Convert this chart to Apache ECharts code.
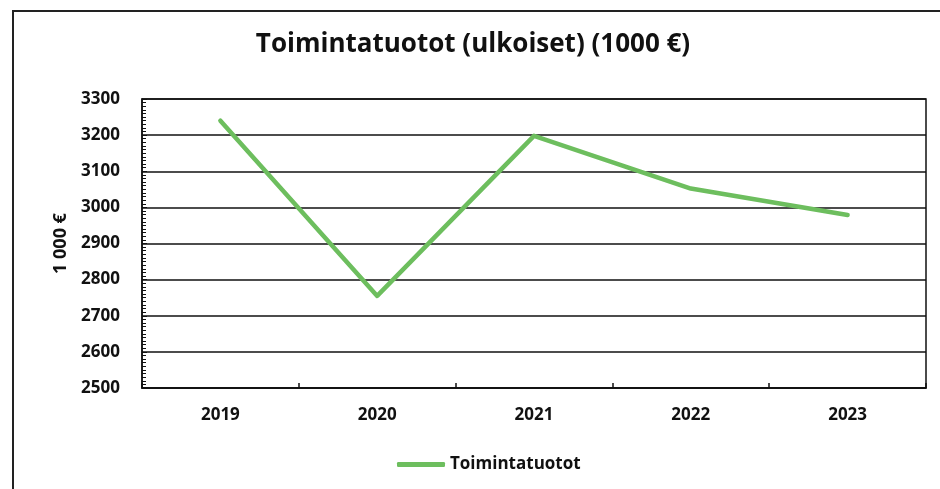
<!DOCTYPE html>
<html>
<head>
<meta charset="utf-8">
<script src="https://cdn.jsdelivr.net/npm/echarts@6/dist/echarts.min.js"></script>
<style>
  html, body { margin: 0; padding: 0; background: #ffffff; }
  #chart { width: 940px; height: 489px; }
</style>
</head>
<body>
<div id="chart"></div>
<script>
const titleText = 'Toimintatuotot (ulkoiset) (1000 €)';
const seriesName = 'Toimintatuotot';
const yAxisName = '1 000 €';
const years = ['2019', '2020', '2021', '2022', '2023'];
const revenue = [3240, 2755, 3198, 3052, 2979];
const yMin = 2500;
const yMax = 3300;
const yStep = 100;

const FONT = '"Open Sans", "Noto Sans", sans-serif';
const chart = echarts.init(document.getElementById('chart'), null, { renderer: 'canvas' });
chart.setOption({
  backgroundColor: '#ffffff',
  animation: false,
  title: {
    text: titleText,
    left: 468,
    textAlign: 'center',
    top: 27,
    textStyle: { fontFamily: FONT, fontWeight: 'bold', fontSize: 26, color: '#111' }
  },
  graphic: [{
    type: 'polyline',
    shape: { points: [[13, 500], [13, 11], [950, 11]] },
    style: { stroke: '#222', lineWidth: 2, fill: null }
  }],
  legend: {
    data: [seriesName],
    left: 392,
    top: 451,
    icon: 'roundRect',
    itemWidth: 48,
    itemHeight: 5,
    textStyle: { fontFamily: FONT, fontWeight: 'bold', fontSize: 17, color: '#111' }
  },
  grid: {
    left: 142, right: 14, top: 99, bottom: 101,
    show: true, borderColor: '#111', borderWidth: 1.5, backgroundColor: 'transparent'
  },
  xAxis: {
    type: 'category',
    data: years,
    boundaryGap: true,
    axisLine: { lineStyle: { color: '#111', width: 1.5 } },
    axisTick: { show: true, inside: true, length: 5, lineStyle: { color: '#111', width: 1.5 } },
    axisLabel: { margin: 19, fontFamily: FONT, fontWeight: 'bold', fontSize: 17, color: '#111' },
    splitLine: { show: false }
  },
  yAxis: {
    type: 'value',
    min: yMin, max: yMax, interval: yStep,
    name: yAxisName,
    nameLocation: 'middle',
    nameGap: 72,
    nameRotate: 90,
    nameTextStyle: { fontFamily: FONT, fontWeight: 'bold', fontSize: 18, color: '#111' },
    axisLine: { show: true, lineStyle: { color: '#111', width: 1.5 } },
    axisTick: { show: true, inside: true, length: 5, lineStyle: { color: '#111', width: 1 } },
    minorTick: { show: true, splitNumber: 10, length: 4, lineStyle: { color: '#111', width: 1 } },
    axisLabel: {
      margin: 22, fontFamily: FONT, fontWeight: 'bold', fontSize: 17, color: '#111',
      formatter: function (v) { return String(v); }
    },
    splitLine: { show: true, lineStyle: { color: '#111', width: 1.5 } }
  },
  series: [{
    name: seriesName,
    type: 'line',
    data: revenue,
    symbol: 'none',
    lineStyle: { color: '#6DBE5E', width: 4.5, cap: 'round', join: 'round' },
    itemStyle: { color: '#6DBE5E' }
  }]
});
</script>
</body>
</html>
